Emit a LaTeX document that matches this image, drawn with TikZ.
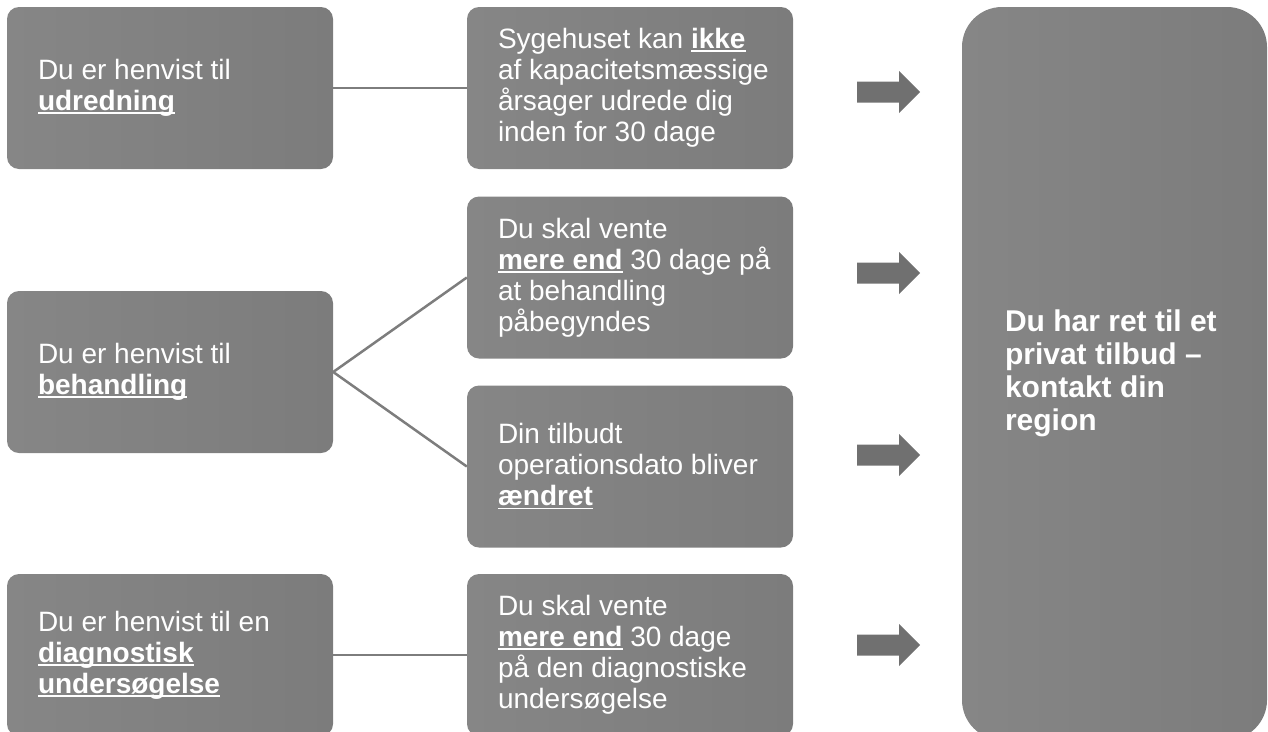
\documentclass[tikz,border=0pt]{standalone}
\usepackage{fontspec}
\setmainfont{Liberation Sans}
\definecolor{boxL}{RGB}{134,134,134}
\definecolor{boxR}{RGB}{124,124,124}
\definecolor{linegray}{RGB}{125,125,125}
\definecolor{arrowgray}{RGB}{112,112,112}
\newcommand\ulb[1]{\sbox0{\textbf{#1}}\rlap{\rule[-3.5pt]{\wd0}{1.8pt}}\usebox0}
\newcommand\bigarrow[1]{\fill[arrowgray] (857,#1) ++(0,-10.5) -- ++(42,0) -- ++(0,-10.5) -- ++(21,21) -- ++(-21,21) -- ++(0,-10.5) -- ++(-42,0) -- cycle;}
\begin{document}
\begin{tikzpicture}[x=1pt,y=-1pt,
  box/.style={left color=boxL, right color=boxR, draw=none, rounded corners=12pt,
    minimum width=326pt, minimum height=162pt, inner sep=0pt},
  bigbox/.style={left color=boxL, right color=boxR, draw=none, rounded corners=40pt,
    minimum width=305pt, minimum height=733pt, inner sep=0pt},
  txt/.style={anchor=west, align=left, inner sep=0pt, text=white,
    font=\fontsize{28}{31}\selectfont},
  bigtxt/.style={anchor=west, align=left, inner sep=0pt, text=white,
    font=\fontsize{30}{33}\selectfont\bfseries},
  conn/.style={draw=linegray, line width=2.5pt}]
\useasboundingbox (0,0) rectangle (1268,731);
\clip (0,0) rectangle (1268,731);
% left boxes
\node[box] (b1) at (170,88) {};
\node[box] (b2) at (170,372) {};
\node[box] (b3) at (170,655) {};
% middle boxes
\node[box] (m1) at (630,88) {};
\node[box] (m2) at (630,277.5) {};
\node[box] (m3) at (630,466.5) {};
\node[box] (m4) at (630,655) {};
% right box
\node[bigbox] (r) at (1114.5,373.5) {};
% texts
\node[txt] (t1) at ([xshift=31pt]b1.west) {Du er henvist til\\\ulb{udredning}};
\node[txt] (t2) at ([xshift=31pt]b2.west) {Du er henvist til\\\ulb{behandling}};
\node[txt] (t3) at ([xshift=31pt]b3.west) {Du er henvist til en\\\ulb{diagnostisk}\\\ulb{undersøgelse}};
\node[txt] (u1) at ([xshift=31pt]m1.west) {Sygehuset kan \ulb{ikke}\\af kapacitetsmæssige\\årsager udrede dig\\inden for 30 dage};
\node[txt] (u2) at ([xshift=31pt]m2.west) {Du skal vente\\\ulb{mere end} 30 dage på\\at behandling\\påbegyndes};
\node[txt] (u3) at ([xshift=31pt]m3.west) {Din tilbudt\\operationsdato bliver\\\ulb{ændret}};
\node[txt] (u4) at ([xshift=31pt]m4.west) {Du skal vente\\\ulb{mere end} 30 dage\\på den diagnostiske\\undersøgelse};
\node[bigtxt] (rt) at ([xshift=43pt]r.west) {Du har ret til et\\privat tilbud --\\kontakt din\\region};
% connectors
\draw[conn] (b1.east) -- (m1.west);
\draw[conn] (b2.east) -- (m2.west);
\draw[conn] (b2.east) -- (m3.west);
\draw[conn] (b3.east) -- (m4.west);
% arrows
\bigarrow{92}
\bigarrow{273}
\bigarrow{455}
\bigarrow{645}
\end{tikzpicture}
\end{document}
